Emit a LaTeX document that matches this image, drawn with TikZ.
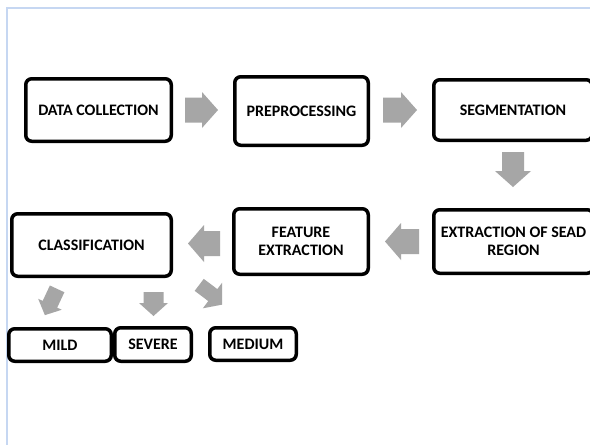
\documentclass[tikz,border=0pt]{standalone}
\usepackage{fontspec}
\setmainfont{Carlito}
\usetikzlibrary{calc}
\definecolor{frameblue}{HTML}{C6D7F2}
\definecolor{arrowgray}{HTML}{A6A6A6}
% name, x, y, angle, length, shaft width, head width, head length
\newcommand\blockarr[8]{%
  \begin{scope}[shift={(#2,#3)}, rotate=#4]
    \coordinate (#1) at (0,0);
    \fill[arrowgray] ({-#5/2},{-#6/2}) -- ({#5/2-#8},{-#6/2}) -- ({#5/2-#8},{-#7/2})
      -- ({#5/2},0) -- ({#5/2-#8},{#7/2}) -- ({#5/2-#8},{#6/2}) -- ({-#5/2},{#6/2}) -- cycle;
  \end{scope}}
\begin{document}
\begin{tikzpicture}[x=1pt,y=1pt,
  box/.style={draw=black, line width=3.5pt, rounded corners=6pt, fill=white,
    align=center, font=\bfseries\fontsize{16}{18}\selectfont, inner sep=0pt}]
\useasboundingbox (0,0) rectangle (590,-445);
\clip (0,0) rectangle (590,-445);
\fill[white] (0,0) rectangle (590,-445);
\draw[frameblue, line width=1.2pt] (7,-445) -- (7,-8) -- (590,-8);

% boxes
\node[box, minimum width=145.5, minimum height=62.5] (dc)  at (98.5,-110) {DATA COLLECTION};
\node[box, minimum width=133.5, minimum height=68.5] (pre) at (301.5,-111) {PREPROCESSING};
\node[box, minimum width=158.5, minimum height=60.5] (seg) at (513,-110) {SEGMENTATION};
\node[box, minimum width=159.5, minimum height=63.5] (ext) at (513.5,-241.5) {EXTRACTION OF SEAD\\REGION};
\node[box, minimum width=134.5, minimum height=65.5] (fe)  at (301,-241.5) {FEATURE\\EXTRACTION};
\node[box, minimum width=159.5, minimum height=62.5] (cls) at (91.5,-245) {CLASSIFICATION};
\node[box, minimum width=102.5, minimum height=32.5] (mild) at (60,-345) {MILD};
\node[box, minimum width=76.5, minimum height=33.5] (sev) at (153,-344.5) {SEVERE};
\node[box, minimum width=86.5, minimum height=32.5] (med) at (253,-344) {MEDIUM};

% block arrows
\blockarr{a1}{201.5}{-110}{0}{33}{25}{36}{16}
\blockarr{a2}{400}{-110}{0}{34}{25}{36}{16}
\blockarr{a3}{513}{-169.5}{-90}{35}{22}{36}{16}
\blockarr{a4}{402}{-241.5}{180}{34}{25}{37}{16}
\blockarr{a5}{204}{-243.5}{180}{32}{25}{37}{16}
\blockarr{a6}{51}{-302}{245}{29}{16}{26}{12}
\blockarr{a7}{153.5}{-304}{-90}{24}{20}{29}{13}
\begin{scope}
  \clip (0,0) rectangle (222,-445);
  \blockarr{a8}{212}{-294.5}{-37}{32}{15}{33}{15}
\end{scope}
\end{tikzpicture}
\end{document}
